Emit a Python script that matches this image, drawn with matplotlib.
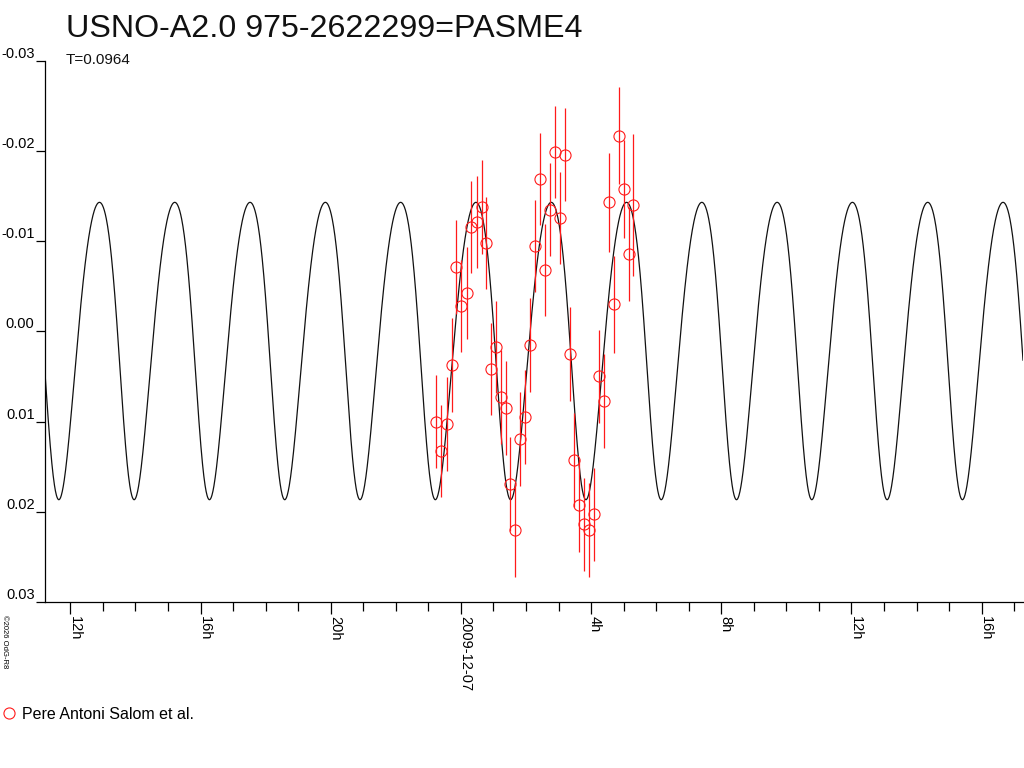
import numpy as np
import matplotlib
matplotlib.use("Agg")
import matplotlib.pyplot as plt
import matplotlib.transforms as mtransforms
from matplotlib.lines import Line2D

plt.rcParams['font.family'] = ['Liberation Sans', 'DejaVu Sans']

title = "USNO-A2.0 975-2622299=PASME4"
subtitle = "T=0.0964"
observer = "Pere Antoni Salom et al."

# time in hours from 2009-12-07 00:00, values in mag (relative)
t_obs = [-0.759, -0.614, -0.439, -0.286, -0.154, 0.009, 0.175, 0.307, 0.482, 0.636,
         0.777, 0.912, 1.075, 1.229, 1.373, 1.515, 1.668, 1.822, 1.975, 2.129,
         2.283, 2.436, 2.590, 2.734, 2.888, 3.051, 3.195, 3.339, 3.481, 3.625,
         3.788, 3.942, 4.086, 4.240, 4.402, 4.556, 4.710, 4.854, 5.017, 5.161,
         5.293]
mag_obs = [0.0100, 0.0133, 0.0103, 0.0037, -0.0071, -0.0028, -0.0043, -0.0116, -0.0121, -0.0138,
           -0.0098, 0.0042, 0.0017, 0.0073, 0.0085, 0.0169, 0.0220, 0.0119, 0.0095, 0.0015,
           -0.0095, -0.0169, -0.0068, -0.0135, -0.0199, -0.0126, -0.0196, 0.0025, 0.0143, 0.0193,
           0.0214, 0.0220, 0.0203, 0.0050, 0.0077, -0.0143, -0.0030, -0.0217, -0.0158, -0.0086,
           -0.0140]
mag_err = [0.0052, 0.0051, 0.0052, 0.0052, 0.0052, 0.0051, 0.0051, 0.0051, 0.0051, 0.0052,
           0.0051, 0.0051, 0.0051, 0.0052, 0.0052, 0.0052, 0.0052, 0.0052, 0.0052, 0.0052,
           0.0051, 0.0051, 0.0051, 0.0052, 0.0051, 0.0051, 0.0052, 0.0052, 0.0052, 0.0052,
           0.0052, 0.0052, 0.0052, 0.0052, 0.0052, 0.0055, 0.0054, 0.0054, 0.0054, 0.0052,
           0.0079]

# fitted model curve (two harmonics), parameters
period_h = 0.0964 * 24
epoch_min = 1.527      # time of a light minimum, hours
mean_mag = 0.00046
amp1 = 0.01648
amp2 = 0.00172
skew = 0.02

xmin, xmax = -12.78, 17.27
yticks = [-0.03, -0.02, -0.01, 0.0, 0.01, 0.02, 0.03]
ylabels = ["-0.03", "-0.02", "-0.01", "0.00", "0.01", "0.02", "0.03"]
xticks = [-12, -8, -4, 0, 4, 8, 12, 16]
xlabels = ["12h", "16h", "20h", "2009-12-07", "4h", "8h", "12h", "16h"]

fig = plt.figure(figsize=(10.24, 7.68), dpi=100)
ax = fig.add_axes([45/1024, 1 - 602/768, (1023 - 45)/1024, (602 - 60.7)/768])

tt = np.linspace(xmin, xmax, 3000)
ph = (tt - epoch_min) / period_h
th = 2*np.pi*(ph - skew * (1 - np.cos(2*np.pi*ph)))
model = mean_mag + amp1*np.cos(th) + amp2*np.cos(2*th)
ax.plot(tt, model, color='#111111', lw=0.9)

ax.errorbar(t_obs, mag_obs, yerr=mag_err, fmt='none', ecolor='#ff1a1a', elinewidth=0.9, capsize=0)
ax.plot(t_obs, mag_obs, 'o', mfc='none', mec='#ff1a1a', ms=8, mew=0.8, ls='none')

ax.set_xlim(xmin, xmax)
ax.set_ylim(0.03, -0.03)
for s in ['top', 'right']:
    ax.spines[s].set_visible(False)
for s in ['left', 'bottom']:
    ax.spines[s].set_linewidth(0.9)

ax.set_yticks(yticks, ylabels)
ax.tick_params(axis='y', length=6.5, width=0.9, pad=1, labelsize=10.5)
for lbl in ax.get_yticklabels():
    lbl.set_va('bottom')

ax.set_xticks(xticks, xlabels)
ax.set_xticks(np.arange(-12, 18, 1), minor=True)
ax.tick_params(axis='x', which='major', length=8.6, width=0.9, pad=1.5, labelsize=10.5,
               labelrotation=-90)
ax.tick_params(axis='x', which='minor', length=6.5, width=0.9)
shift = mtransforms.ScaledTranslation(-3/100, 0, fig.dpi_scale_trans)
for lbl in ax.get_xticklabels():
    lbl.set_ha('left')
    lbl.set_va('top')
    lbl.set_transform(lbl.get_transform() + shift)

fig.text(66/1024, 1 - 37/768, title, fontsize=23.2, va='baseline', ha='left', color='#111111')
fig.text(66/1024, 1 - 64/768, subtitle, fontsize=11, va='baseline', ha='left', color='#111111')
fig.text(0.5/1024, 1 - 615/768, "\u00a92026 OdG-R8", fontsize=5.5, rotation=-90,
         va='top', ha='left')

handle = Line2D([], [], marker='o', ls='none', mfc='none', mec='#ff1a1a', ms=8, mew=0.8)
fig.legend(handles=[handle], labels=[observer], loc='upper left',
           bbox_to_anchor=(1.5/1024, 1 - 707/768), frameon=False, borderpad=0,
           borderaxespad=0, handlelength=1.0, handletextpad=0.3, fontsize=11.5)

fig.savefig("out.png", dpi=100)
